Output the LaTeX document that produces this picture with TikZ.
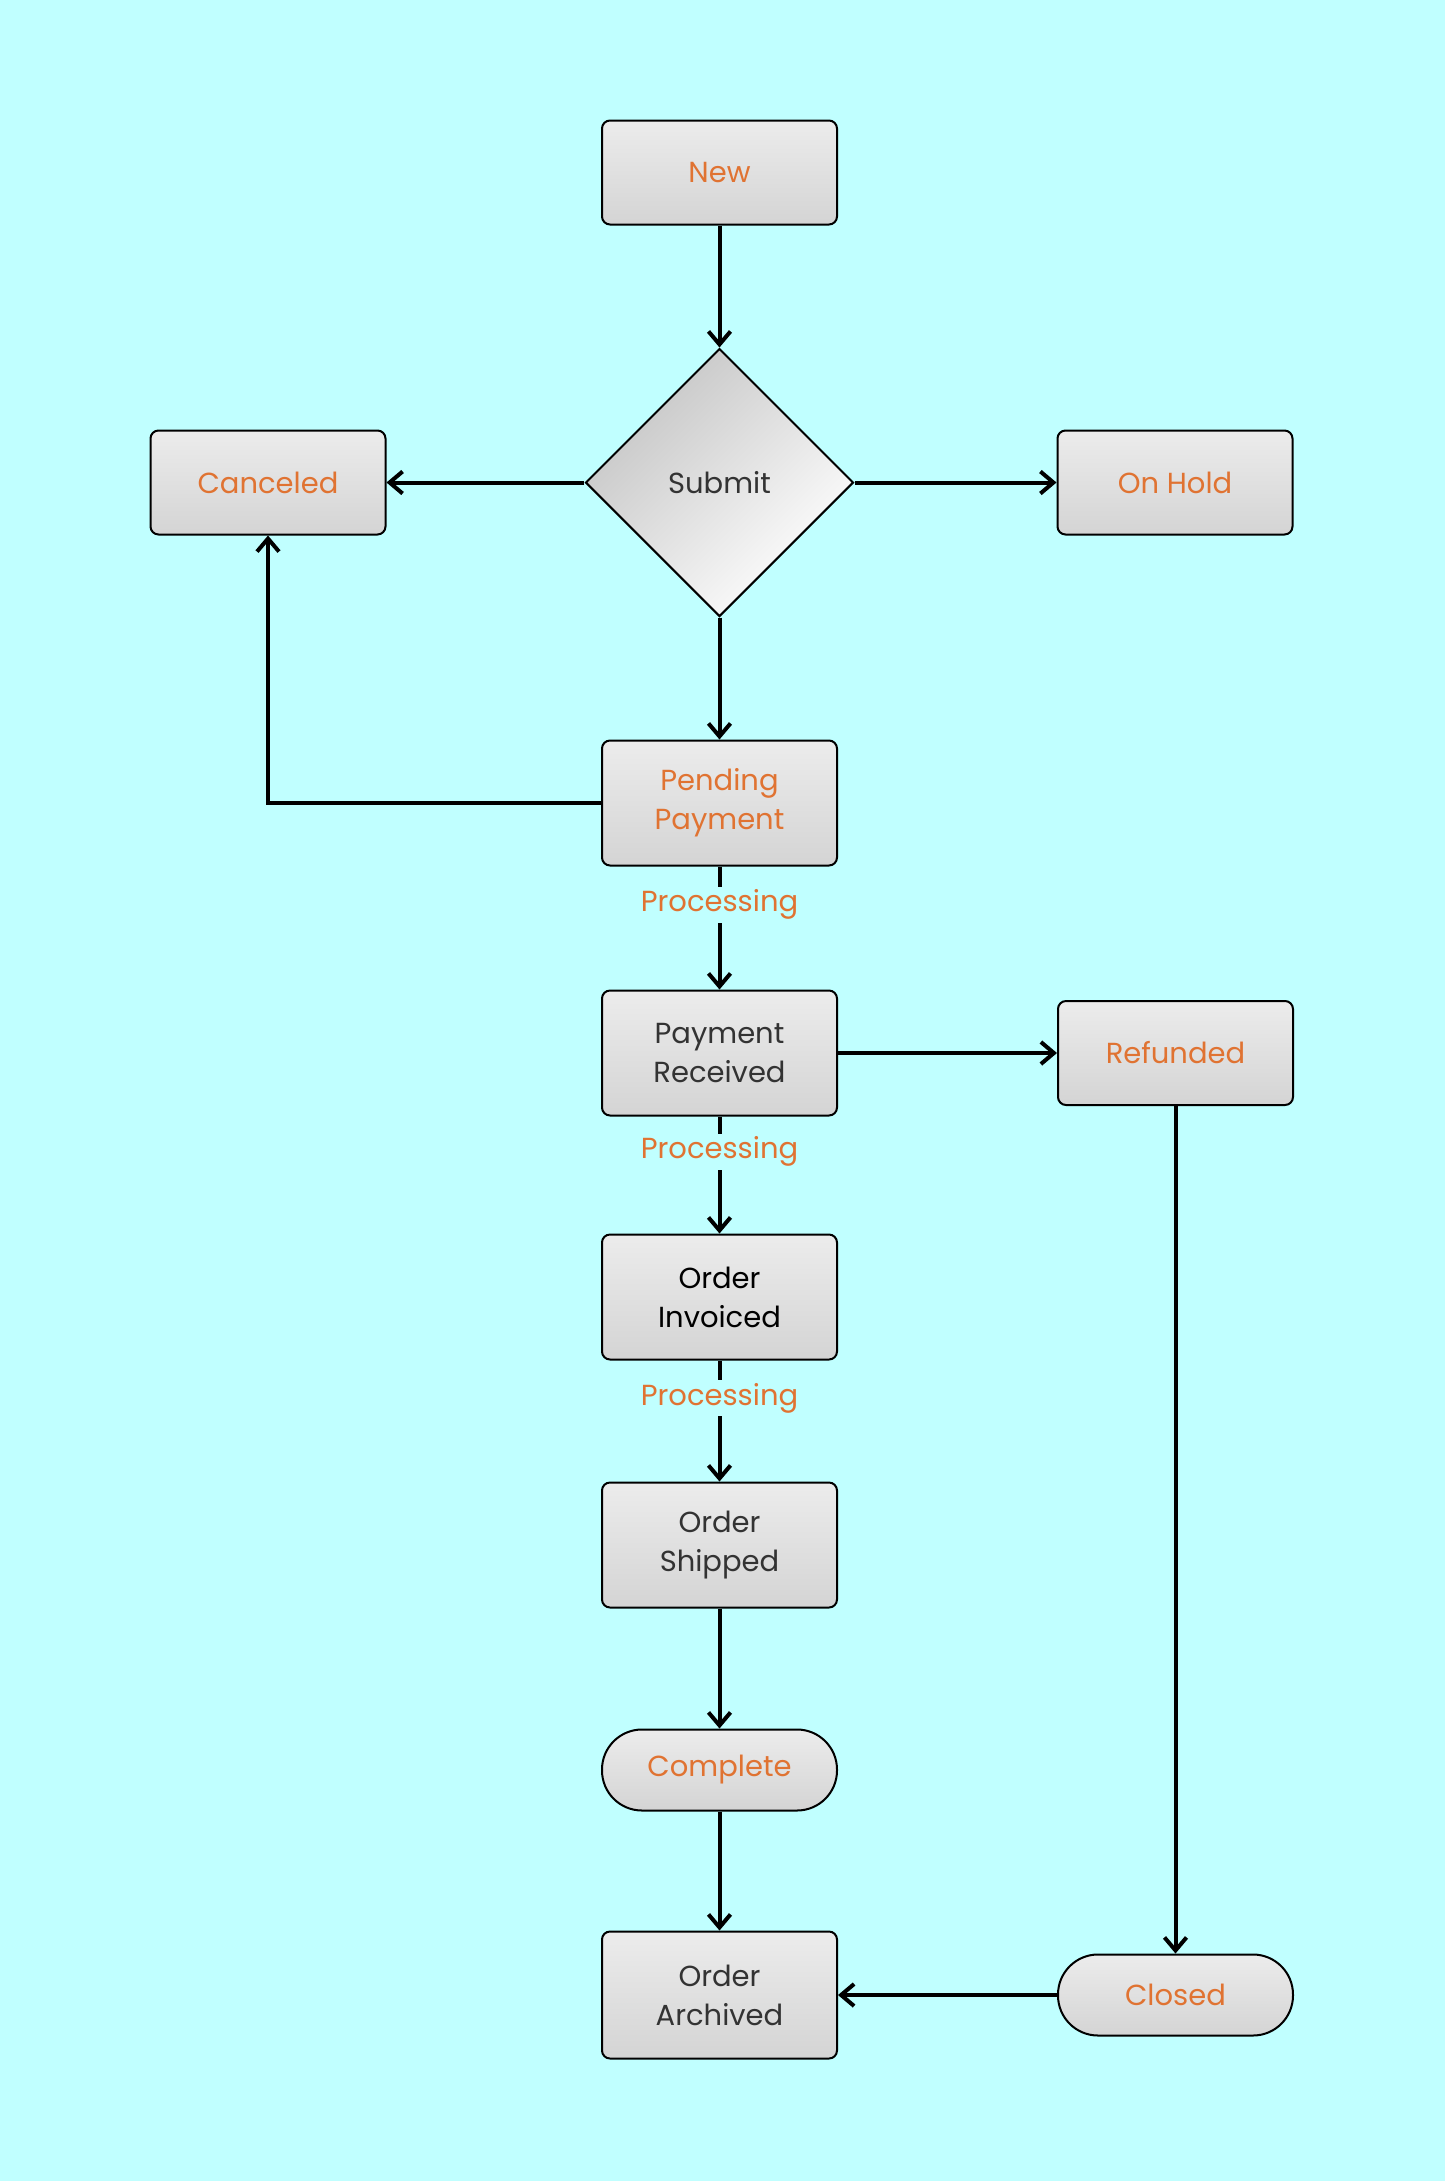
\documentclass[tikz,border=0pt]{standalone}
\usepackage{fontspec}
\setmainfont{Poppins}
\usepackage{xcolor}
\usepackage{tikz}
\usetikzlibrary{shapes.geometric, arrows.meta, positioning, calc}
\definecolor{bgcyan}{RGB}{192,255,255}
\definecolor{boxtop}{RGB}{236,236,236}
\definecolor{boxbottom}{RGB}{212,212,212}
\definecolor{diadark}{RGB}{196,196,196}
\definecolor{stateorange}{RGB}{224,115,50}
\definecolor{darktext}{RGB}{51,51,51}

\begin{document}
\begin{tikzpicture}[x=0.5pt, y=-0.5pt, >={Straight Barb[length=6.5pt, width=11pt]}]
    \tikzstyle{state} = [rectangle, rounded corners=4pt, draw=black, line width=1pt, top color=boxtop, bottom color=boxbottom, minimum width=117.5pt, minimum height=52pt, align=center, font=\fontsize{14.5}{19.5}\selectfont, text=darktext]
    \tikzstyle{twoline} = [state, minimum height=62.5pt]
    \tikzstyle{terminal} = [state, rounded corners=20pt, minimum height=40.5pt]
    \tikzstyle{decision} = [diamond, draw=black, line width=1pt, shading=axis, top color=diadark, bottom color=white, shading angle=45, minimum width=134pt, minimum height=134pt, inner sep=0pt, font=\fontsize{14.5}{19.5}\selectfont, text=darktext]
    \tikzstyle{flow} = [->, line width=2pt]
    \tikzstyle{edgelabel} = [fill=bgcyan, inner sep=1.5pt, text=stateorange, font=\fontsize{14.5}{19.5}\selectfont]

    \fill[bgcyan] (0,0) rectangle (1445,2181);

    \node (new)       [state, text=stateorange] at (719.5,172.5) {New};
    \node (submit)    [decision, below=61pt of new]          {Submit};
    \node (canceled)  [state, text=stateorange, left=99pt of submit]  {Canceled};
    \node (onhold)    [state, text=stateorange, right=101pt of submit] {On Hold};
    \node (pending)   [twoline, text=stateorange, below=61pt of submit] {Pending\\Payment};
    \node (received)  [twoline, below=61.5pt of pending]     {Payment\\Received};
    \node (refunded)  [state, text=stateorange, right=109.5pt of received] {Refunded};
    \node (invoiced)  [twoline, text=black, below=58.5pt of received] {Order\\Invoiced};
    \node (shipped)   [twoline, below=60.5pt of invoiced]    {Order\\Shipped};
    \node (complete)  [terminal, text=stateorange, below=60pt of shipped] {Complete};
    \node (archived)  [state, minimum height=63.5pt, below=59.5pt of complete] {Order\\Archived};
    \node (closed)    [terminal, text=stateorange] at (refunded |- archived) {Closed};

    \draw [flow] (new) -- (submit);
    \draw [flow] (submit) -- (canceled);
    \draw [flow] (submit) -- (onhold);
    \draw [flow] (submit) -- (pending);
    % back to canceled
    \draw [flow] (pending.west) -| (canceled.south);
    \draw [flow] (pending) -- node[edgelabel, pos=0.31] {Processing} (received);
    \draw [flow] (received) -- (refunded);
    \draw [flow] (received) -- node[edgelabel, pos=0.3] {Processing} (invoiced);
    \draw [flow] (invoiced) -- node[edgelabel, pos=0.31] {Processing} (shipped);
    \draw [flow] (shipped) -- (complete);
    \draw [flow] (complete) -- (archived);
    \draw [flow] (refunded) -- (closed);
    \draw [flow] (closed) -- (archived);
\end{tikzpicture}
\end{document}
